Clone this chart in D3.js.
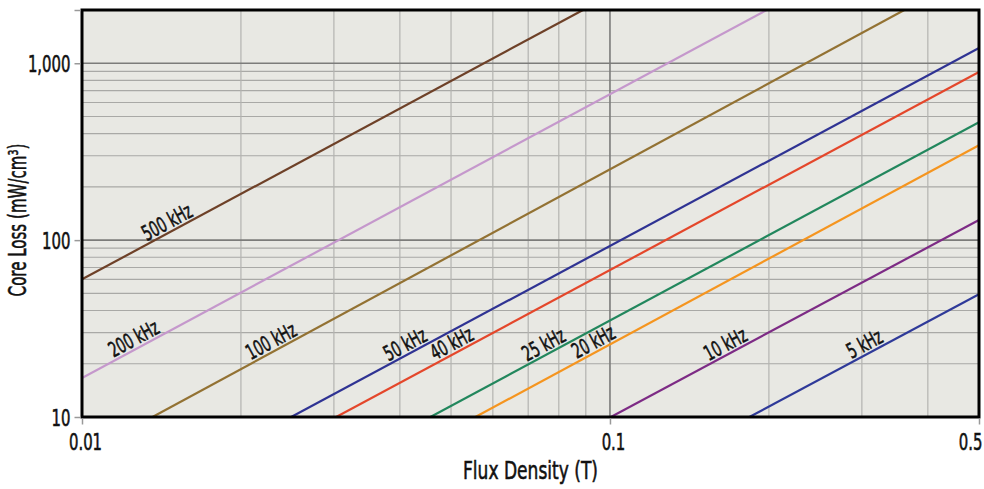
<!DOCTYPE html>
<html>
<head>
<meta charset="utf-8">
<script src="https://cdn.jsdelivr.net/npm/d3@7"></script>
<style>
  body { margin: 0; background: #fff; }
  text { font-family: "DejaVu Sans", sans-serif; font-stretch: condensed; fill: #111; stroke: #111; stroke-width: 0.55px; }
</style>
</head>
<body>
<div id="chart"></div>
<script>
//set chart size
let width_svg = 984;
let height_svg = 489;

let margin = { top: 10, right: 5, left: 82, bottom: 72 };
let width = width_svg - margin.left - margin.right;
let height = height_svg - margin.top - margin.bottom;

//squeeze factor to mimic the narrow type of the original
let narrow = 0.72;

//==========================================================
//data: each curve is a straight line in log-log
const freqs = ["500 kHz", "200 kHz", "100 kHz", "50 kHz", "40 kHz", "25 kHz", "20 kHz", "10 kHz", "5 kHz"];
const lossStart = [[0.01, 60], [0.01, 16.6], [0.0136, 10], [0.0249, 10], [0.0303, 10], [0.0457, 10], [0.0556, 10], [0.1004, 10], [0.1837, 10]];
const lossEnd = [[0.0889, 2000], [0.198, 2000], [0.361, 2000], [0.5, 1220], [0.5, 893], [0.5, 464], [0.5, 344], [0.5, 130], [0.5, 49.5]];
const labelAt = [0.0148, 0.0128, 0.0233, 0.0418, 0.0512, 0.0765, 0.095, 0.169, 0.31];
const colors = ["#6e4128", "#c598cc", "#937233", "#2f3393", "#e4472b", "#22875d", "#f5951f", "#7d2b85", "#2f3a99"];

const xTicks = [0.01, 0.1, 0.5];
const xTickLabels = ["0.01", "0.1", "0.5"];
const yTicks = [10, 100, 1000, 2000];
const yTickLabels = ["10", "100", "1,000", ""];

const xMinor = [0.02, 0.03, 0.04, 0.05, 0.06, 0.07, 0.08, 0.09, 0.2, 0.3, 0.4];
const xMajor = [0.1];
const yMinor = [20, 30, 40, 50, 60, 70, 80, 90, 200, 300, 400, 500, 600, 700, 800, 900];
const yMajor = [100, 1000];

//==========================================================
let svg = d3.select("#chart").append("svg")
    .attr("width", width_svg)
    .attr("height", height_svg);

let chart = svg.append("g")
    .attr("transform", `translate(${margin.left}, ${margin.top})`);

let x = d3.scaleLog().domain([0.01, 0.5]).range([0, width]);
let y = d3.scaleLog().domain([10, 2000]).range([height, 0]);

//background
chart.append("rect")
    .attr("width", width).attr("height", height)
    .attr("fill", "#e8e8e3");

//grid
chart.selectAll(".ygrid-minor").data(yMinor).enter().append("line")
    .attr("x1", 0).attr("x2", width)
    .attr("y1", d => y(d)).attr("y2", d => y(d))
    .attr("stroke", "#a9a9a6").attr("stroke-width", 1.2);
chart.selectAll(".xgrid-minor").data(xMinor).enter().append("line")
    .attr("y1", 0).attr("y2", height)
    .attr("x1", d => x(d)).attr("x2", d => x(d))
    .attr("stroke", "#b3b3b0").attr("stroke-width", 1.2);
chart.selectAll(".ygrid-major").data(yMajor).enter().append("line")
    .attr("x1", 0).attr("x2", width)
    .attr("y1", d => y(d)).attr("y2", d => y(d))
    .attr("stroke", "#7c7c7a").attr("stroke-width", 1.6);
chart.selectAll(".xgrid-major").data(xMajor).enter().append("line")
    .attr("y1", 0).attr("y2", height)
    .attr("x1", d => x(d)).attr("x2", d => x(d))
    .attr("stroke", "#7c7c7a").attr("stroke-width", 1.6);

//clip for the curves
svg.append("defs").append("clipPath").attr("id", "plot-clip")
    .append("rect").attr("width", width).attr("height", height);

let line = d3.line().x(d => x(d[0])).y(d => y(d[1]));

let curves = chart.append("g").attr("clip-path", "url(#plot-clip)");
freqs.forEach((f, i) => {
    curves.append("path")
        .datum([lossStart[i], lossEnd[i]])
        .attr("d", line)
        .attr("fill", "none")
        .attr("stroke", colors[i])
        .attr("stroke-width", 2.2);
});

//curve labels, sitting on top of each line
freqs.forEach((f, i) => {
    let p0 = lossStart[i], p1 = lossEnd[i];
    let t = (Math.log(labelAt[i]) - Math.log(p0[0])) / (Math.log(p1[0]) - Math.log(p0[0]));
    let pv = Math.exp(Math.log(p0[1]) + t * (Math.log(p1[1]) - Math.log(p0[1])));
    let dx = x(p1[0]) - x(p0[0]);
    let dy = y(p1[1]) - y(p0[1]);
    let ang = Math.atan2(dy, dx) * 180 / Math.PI;
    chart.append("text")
        .attr("transform", `translate(${x(labelAt[i])}, ${y(pv)}) rotate(${ang}) scale(0.7, 1) translate(0, -3)`)
        .attr("text-anchor", "middle")
        .attr("font-size", 21)
        .text(f);
});

//frame
chart.append("rect")
    .attr("width", width).attr("height", height)
    .attr("fill", "none").attr("stroke", "#000").attr("stroke-width", 3);

//axes
let xAxis = chart.append("g")
    .attr("transform", `translate(0, ${height + 1.5})`)
    .call(d3.axisBottom(x).tickValues(xTicks).tickFormat((d, i) => xTickLabels[i]).tickSize(6).tickPadding(9));
let yAxis = chart.append("g")
    .attr("transform", "translate(-1.5, 0)")
    .call(d3.axisLeft(y).tickValues(yTicks).tickFormat((d, i) => yTickLabels[i]).tickSize(6).tickPadding(4));

[xAxis, yAxis].forEach(a => {
    a.select(".domain").remove();
    a.selectAll(".tick line").attr("stroke", "#999").attr("stroke-width", 1.5);
    a.selectAll(".tick text").attr("font-size", 23).attr("fill", "#111")
        .attr("transform", `scale(${narrow}, 1)`)
        .style("font-family", "'DejaVu Sans', sans-serif").style("font-stretch", "condensed");
});
yAxis.selectAll(".tick text").attr("dy", "0.36em").attr("x", -10 / narrow);
xAxis.selectAll(".tick text").attr("x", 3 / narrow);
//last x label is right-aligned against the frame edge
xAxis.selectAll(".tick text").filter((d, i) => i === xTicks.length - 1)
    .attr("text-anchor", "end").attr("x", 3 / narrow);

//axis titles
svg.append("text")
    .attr("transform", `translate(${margin.left + width / 2}, 479) scale(0.76, 1)`)
    .attr("text-anchor", "middle")
    .attr("font-size", 25)
    .text("Flux Density (T)");

svg.append("text")
    .attr("transform", `translate(26, 220) rotate(-90) scale(0.67, 1)`)
    .attr("text-anchor", "middle")
    .attr("font-size", 25)
    .text("Core Loss (mW/cm³)");
</script>
</body>
</html>
